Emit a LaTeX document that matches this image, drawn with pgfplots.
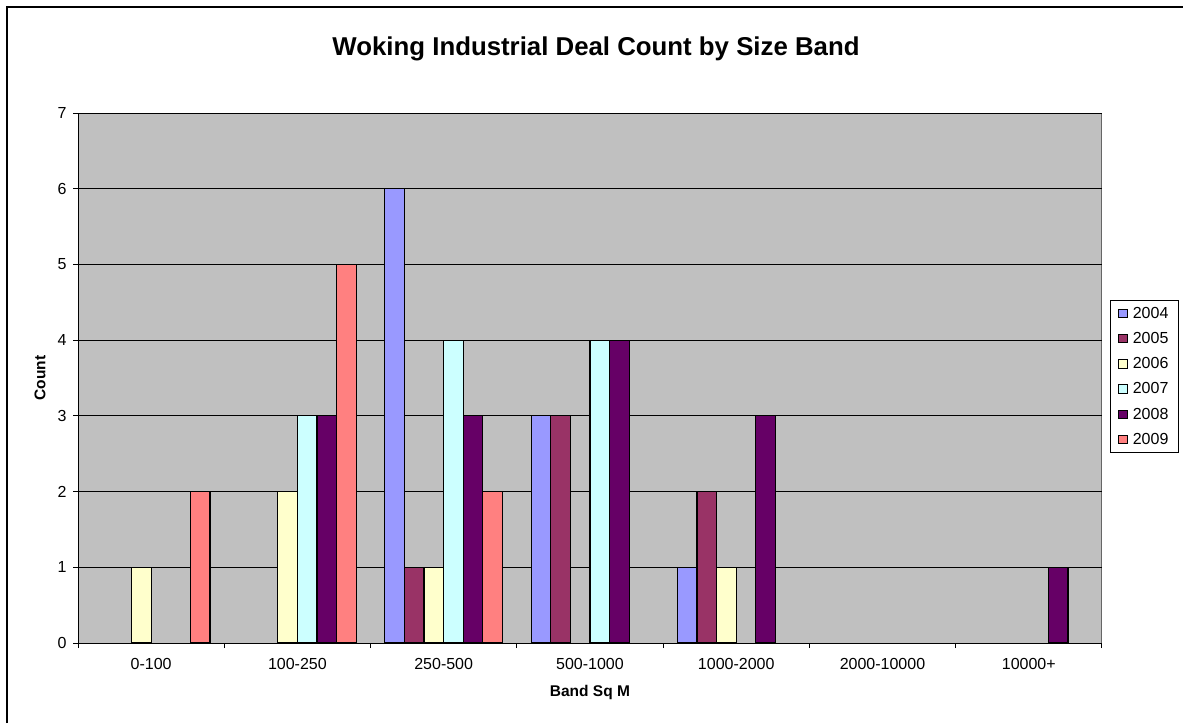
\documentclass[border=0pt]{standalone}
\usepackage{fontspec}
\setmainfont{Liberation Sans}
\usepackage{pgfplots}
\pgfplotsset{compat=1.18}

\definecolor{cA}{HTML}{9999FF}
\definecolor{cB}{HTML}{993366}
\definecolor{cC}{HTML}{FFFFCC}
\definecolor{cD}{HTML}{CCFFFF}
\definecolor{cE}{HTML}{660066}
\definecolor{cF}{HTML}{FF8080}
\definecolor{plotgray}{HTML}{C0C0C0}

\pgfplotsset{
  sqlegend/.style={
    legend image code/.code={%
      \path[draw=none,fill=none] (0pt,-4.2pt) rectangle (12pt,4.2pt);
      \draw[##1,line width=1pt] (0pt,-4.2pt) rectangle (8.4pt,4.2pt);}
  }
}

\begin{document}
\begin{tikzpicture}[x=1pt,y=1pt]
\path[use as bounding box] (0pt,0pt) rectangle (1183pt,723pt);
% chart frame (left and top edges)
\draw[line width=2pt] (7pt,0pt) -- (7pt,716pt) -- (1183pt,716pt);
\node[font=\fontsize{25.8}{30}\selectfont\bfseries] at (596pt,674pt)
  {Woking Industrial Deal Count by Size Band};
\begin{axis}[
  at={(78pt,80pt)}, anchor=south west,
  scale only axis, width=1024pt, height=530pt,
  ybar=0pt, bar width=19.6pt,
  xmin=-0.5, xmax=6.5, ymin=0, ymax=7,
  axis x line*=bottom, axis y line*=left,
  axis line style={black, line width=0.9pt},
  axis background/.style={fill=plotgray, draw=gray!80!black, line width=0.9pt},
  xtick={0,...,6},
  xticklabels={0-100,100-250,250-500,500-1000,1000-2000,2000-10000,10000+},
  minor xtick={-0.5,0.5,...,6.5},
  major x tick style={draw=none},
  ytick={0,...,7},
  tick align=outside,
  major tick length=5pt, minor tick length=5pt,
  tick style={black, line width=0.9pt},
  ymajorgrids,
  major grid style={black, line width=0.9pt},
  /pgf/number format/assume math mode=true,
  tick label style={font=\fontsize{16}{19}\selectfont},
  xticklabel style={yshift=-7pt},
  yticklabel style={xshift=-3pt},
  xlabel={\bfseries Band Sq M},
  ylabel={\bfseries Count},
  label style={font=\fontsize{15.5}{18}\selectfont},
  xlabel style={at={(axis description cs:0.5,0)}, anchor=center, yshift=-49pt},
  ylabel style={at={(axis description cs:0,0.5)}, anchor=center, yshift=38pt},
  legend style={
    at={(rel axis cs:1.0078,0.5028)}, anchor=west,
    draw=black, fill=white, line width=0.9pt,
    font=\fontsize{16}{19}\selectfont,
    row sep=8.5pt, inner xsep=8pt, inner ysep=5pt,
  },
  legend cell align=left,
  every axis plot post/.append style={sqlegend, draw=black, line width=1.2pt},
]
% deal counts per size band (bands with no deals are left out)
\addplot[fill=cA] coordinates {(2,6) (3,3) (4,1)};
\addplot[fill=cB] coordinates {(2,1) (3,3) (4,2)};
\addplot[fill=cC] coordinates {(0,1) (1,2) (2,1) (4,1)};
\addplot[fill=cD] coordinates {(1,3) (2,4) (3,4)};
\addplot[fill=cE] coordinates {(1,3) (2,3) (3,4) (4,3) (6,1)};
\addplot[fill=cF] coordinates {(0,2) (1,5) (2,2)};
\legend{2004,2005,2006,2007,2008,2009}
\end{axis}
\end{tikzpicture}
\end{document}
